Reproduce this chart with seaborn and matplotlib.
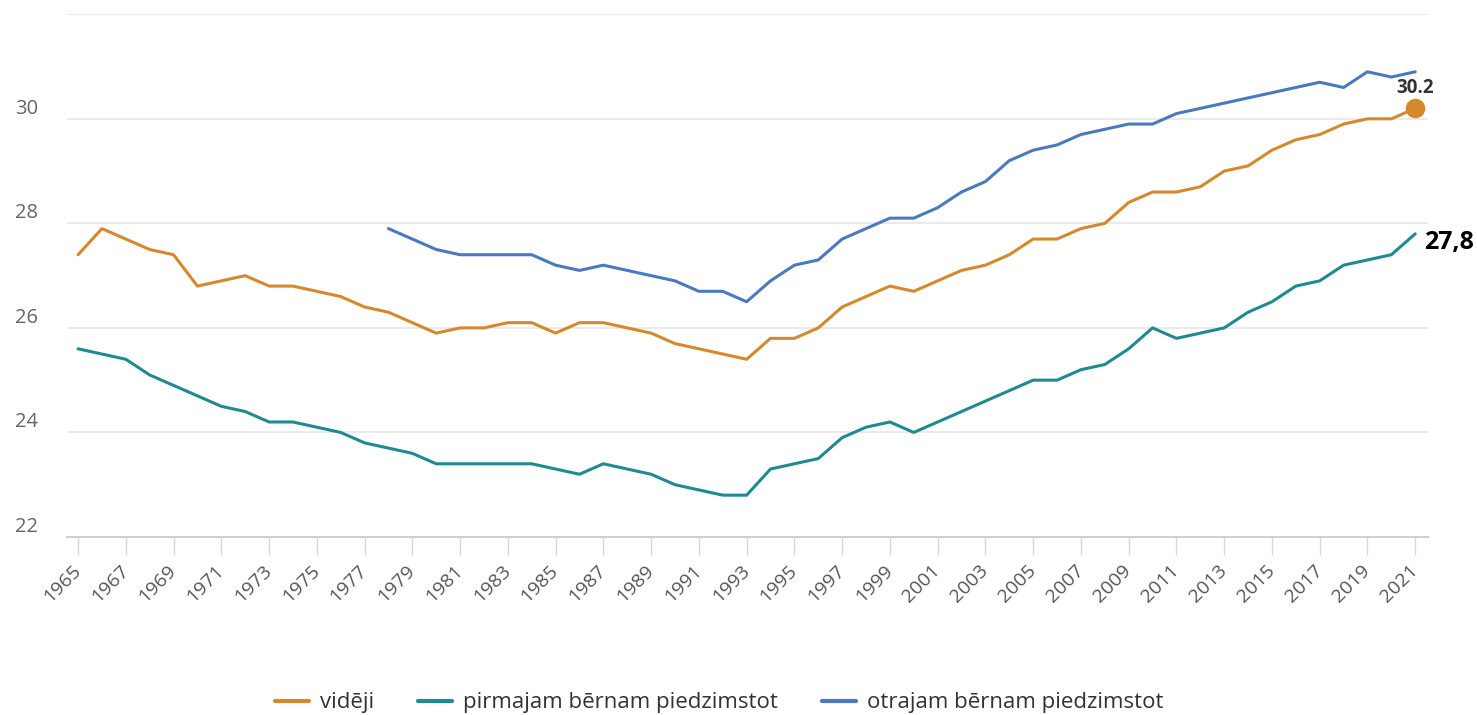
import numpy as np
import pandas as pd
import matplotlib.pyplot as plt
import seaborn as sns

years = list(range(1965, 2022))

videji = [27.4, 27.9, 27.7, 27.5, 27.4, 26.8, 26.9, 27.0, 26.8, 26.8,
          26.7, 26.6, 26.4, 26.3, 26.1, 25.9, 26.0, 26.0, 26.1, 26.1,
          25.9, 26.1, 26.1, 26.0, 25.9, 25.7, 25.6, 25.5, 25.4, 25.8,
          25.8, 26.0, 26.4, 26.6, 26.8, 26.7, 26.9, 27.1, 27.2, 27.4,
          27.7, 27.7, 27.9, 28.0, 28.4, 28.6, 28.6, 28.7, 29.0, 29.1,
          29.4, 29.6, 29.7, 29.9, 30.0, 30.0, 30.2]

pirmajam = [25.6, 25.5, 25.4, 25.1, 24.9, 24.7, 24.5, 24.4, 24.2, 24.2,
            24.1, 24.0, 23.8, 23.7, 23.6, 23.4, 23.4, 23.4, 23.4, 23.4,
            23.3, 23.2, 23.4, 23.3, 23.2, 23.0, 22.9, 22.8, 22.8, 23.3,
            23.4, 23.5, 23.9, 24.1, 24.2, 24.0, 24.2, 24.4, 24.6, 24.8,
            25.0, 25.0, 25.2, 25.3, 25.6, 26.0, 25.8, 25.9, 26.0, 26.3,
            26.5, 26.8, 26.9, 27.2, 27.3, 27.4, 27.8]

# second-child series starts in 1978
otrajam = [np.nan] * 13 + [
    27.9, 27.7, 27.5, 27.4, 27.4, 27.4, 27.4, 27.2, 27.1, 27.2,
    27.1, 27.0, 26.9, 26.7, 26.7, 26.5, 26.9, 27.2, 27.3, 27.7,
    27.9, 28.1, 28.1, 28.3, 28.6, 28.8, 29.2, 29.4, 29.5, 29.7,
    29.8, 29.9, 29.9, 30.1, 30.2, 30.3, 30.4, 30.5, 30.6, 30.7,
    30.6, 30.9, 30.8, 30.9]

series_names = ['vidēji', 'pirmajam bērnam piedzimstot', 'otrajam bērnam piedzimstot']
colors = ['#D5892B', '#1F8A8F', '#4A79C0']

df = pd.DataFrame({'gads': years, series_names[0]: videji,
                   series_names[1]: pirmajam, series_names[2]: otrajam})
long_df = df.melt(id_vars='gads', var_name='rādītājs', value_name='vecums').dropna()

sns.set_style('white')
plt.rcParams['font.family'] = ['Open Sans', 'DejaVu Sans']

fig = plt.figure(figsize=(14.77, 7.15), dpi=100)
ax = fig.add_axes([0.0454, 0.249, 0.9215, 0.731])

sns.lineplot(data=long_df, x='gads', y='vecums', hue='rādītājs',
             hue_order=series_names, palette=colors, linewidth=2.2,
             ax=ax, legend=False)

ax.set_xlim(1964.54, 2021.54)
ax.set_ylim(22, 32)
ax.set_yticks([22, 24, 26, 28, 30, 32])
ax.set_yticklabels(['22', '24', '26', '28', '30', ''])
ax.set_xticks(years[::2])
ax.set_xticklabels([str(y) for y in years[::2]], rotation=45, ha='right',
                   va='center', rotation_mode='anchor')
ax.set_xlabel('')
ax.set_ylabel('')

ax.yaxis.grid(True, color='#E6E6E6', linewidth=1.2)
ax.xaxis.grid(False)
for side in ['top', 'right', 'left']:
    ax.spines[side].set_visible(False)
ax.spines['bottom'].set_color('#D0D0D0')
ax.spines['bottom'].set_linewidth(1.5)

ax.tick_params(axis='x', which='major', bottom=True, length=13, width=1,
               color='#D8D8D8', labelsize=14, labelcolor='#555555', pad=9)
ax.tick_params(axis='y', length=0, labelsize=14.5, labelcolor='#666666', pad=21)
for lbl in ax.get_yticklabels():
    lbl.set_verticalalignment('bottom')

# endpoint highlights
ax.scatter([years[-1]], [videji[-1]], s=170, color=colors[0], zorder=5,
           clip_on=False)
ax.annotate('30.2', (years[-1], videji[-1]), xytext=(0, 14.5),
            textcoords='offset points', ha='center', va='center',
            fontsize=13.5, fontweight='bold', color='#333333')
ax.annotate('27,8', (years[-1], pirmajam[-1]), xytext=(6, -6),
            textcoords='offset points', ha='left', va='center',
            fontsize=18, fontweight='bold', color='black',
            annotation_clip=False)

handles = [plt.Line2D([], [], color=c, linewidth=3) for c in colors]
fig.legend(handles, series_names, loc='center', bbox_to_anchor=(0.487, 0.017),
           ncol=3, frameon=False, fontsize=16, handlelength=1.5,
           handletextpad=0.5, columnspacing=2.0, labelcolor='#333333')

plt.savefig('out.png', dpi=100)
